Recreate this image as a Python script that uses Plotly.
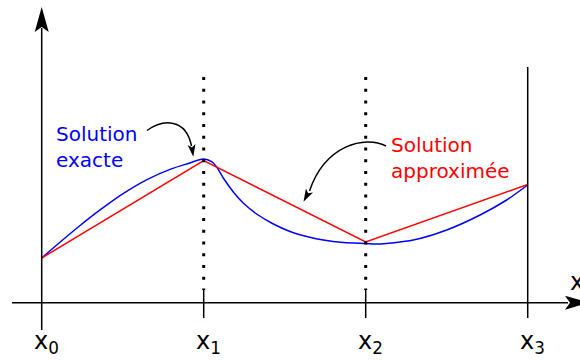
import math
import plotly.graph_objects as go

# mesh nodes and their labels
x_nodes = [0, 1, 2, 3]
node_labels = ['x<sub>0</sub>', 'x<sub>1</sub>', 'x<sub>2</sub>', 'x<sub>3</sub>']

# approximate solution: values at the nodes (piecewise linear)
approx_y = [0.447, 1.422, 0.607, 1.182]

# exact solution, points
exact_x = [0, 0.1, 0.237, 0.35, 0.5, 0.65, 0.8, 0.9, 1.0, 1.049, 1.080, 1.121,
           1.183, 1.244, 1.327, 1.430, 1.533, 1.636, 1.738, 1.862, 2.0,
           2.068, 2.294, 2.5, 2.706, 2.870, 3.0]
exact_y = [0.447, 0.587, 0.772, 0.915, 1.088, 1.231, 1.338, 1.390, 1.437, 1.410,
           1.357, 1.247, 1.107, 0.997, 0.887, 0.787, 0.712, 0.662, 0.627, 0.602,
           0.592, 0.587, 0.627, 0.727, 0.877, 1.027, 1.177]

BLUE = '#0000ff'
RED = '#ff0000'
FONT = 'DejaVu Sans'

# pixel <-> data helpers (plot area covers the whole 580x360 page)
X0_PX, DX = 41.7, 162.0
Y0_PX, DY = 302.7, 100.0


def X(px):
    return (px - X0_PX) / DX


def Y(py):
    return (Y0_PX - py) / DY


def head_path(tip, base, half_w, notch):
    tx, ty = tip
    bx, by = base
    L = math.hypot(tx - bx, ty - by)
    ux, uy = (tx - bx) / L, (ty - by) / L
    nx, ny = -uy, ux
    pts = [(tx, ty), (bx + nx * half_w, by + ny * half_w),
           (bx + ux * notch, by + uy * notch), (bx - nx * half_w, by - ny * half_w)]
    return 'M ' + ' L '.join(f'{X(p[0]):.4f},{Y(p[1]):.4f}' for p in pts) + ' Z'


def curve_path(p0, p1, p2, p3):
    return (f'M {X(p0[0]):.4f},{Y(p0[1]):.4f} C {X(p1[0]):.4f},{Y(p1[1]):.4f} '
            f'{X(p2[0]):.4f},{Y(p2[1]):.4f} {X(p3[0]):.4f},{Y(p3[1]):.4f}')


fig = go.Figure()

fig.add_trace(go.Scatter(x=exact_x, y=exact_y, mode='lines',
                         line=dict(color=BLUE, width=1.5, shape='spline', smoothing=0.8),
                         hoverinfo='skip'))
fig.add_trace(go.Scatter(x=x_nodes, y=approx_y, mode='lines',
                         line=dict(color=RED, width=1.5), hoverinfo='skip'))

black = dict(color='black', width=1.5)
shapes = [
    # axes
    dict(type='line', x0=0, x1=0, y0=Y(330), y1=Y(28), line=black),
    dict(type='line', x0=X(12), x1=X(568), y0=0, y1=0, line=black),
    dict(type='path', path=head_path((41.7, 7), (41.7, 32), 7, 5),
         fillcolor='black', line=dict(width=0)),
    dict(type='path', path=head_path((589, 302.7), (565, 302.7), 7, 5),
         fillcolor='black', line=dict(width=0)),
    # last node: solid vertical line
    dict(type='line', x0=x_nodes[3], x1=x_nodes[3], y0=Y(67), y1=Y(318), line=black),
]
for xn in x_nodes[1:3]:
    shapes.append(dict(type='line', x0=xn, x1=xn, y0=Y(77), y1=Y(290),
                       line=dict(color='black', width=3, dash='3px,8.75px')))
    shapes.append(dict(type='line', x0=xn, x1=xn, y0=Y(289), y1=Y(318), line=black))

# curved arrows
shapes.append(dict(type='path', path=curve_path((147, 130.5), (163, 119), (186, 118), (191.5, 146)),
                   line=black))
shapes.append(dict(type='path', path=head_path((193.3, 156.7), (191.5, 144.5), 4, 3),
                   fillcolor='black', line=dict(width=0)))
shapes.append(dict(type='path', path=curve_path((386, 146), (365, 135), (325, 145), (309.5, 191)),
                   line=black))
shapes.append(dict(type='path', path=head_path((303.5, 201.7), (309.5, 190.5), 4, 3),
                   fillcolor='black', line=dict(width=0)))

annotations = [
    dict(x=X(56), y=Y(122), text='Solution<br>exacte', showarrow=False,
         xanchor='left', yanchor='top', align='left', borderpad=0, borderwidth=0,
         font=dict(family=FONT, size=20, color=BLUE)),
    dict(x=X(391), y=Y(133), text='Solution<br>approximée', showarrow=False,
         xanchor='left', yanchor='top', align='left', borderpad=0, borderwidth=0,
         font=dict(family=FONT, size=20, color=RED)),
    dict(x=X(570), y=Y(268), text='x', showarrow=False,
         xanchor='left', yanchor='top', borderpad=0, borderwidth=0,
         font=dict(family=FONT, size=24, color='black')),
]
for xn, lab in zip(x_nodes, node_labels):
    annotations.append(dict(x=xn, y=Y(327), text=lab, showarrow=False, xshift=-7.5,
                            xanchor='left', yanchor='top', borderpad=0, borderwidth=0,
                            font=dict(family=FONT, size=24, color='black')))

fig.update_layout(
    width=580, height=360,
    margin=dict(l=0, r=0, t=0, b=0),
    paper_bgcolor='white', plot_bgcolor='white',
    showlegend=False,
    xaxis=dict(range=[X(0), X(580)], visible=False, fixedrange=True),
    yaxis=dict(range=[Y(360), Y(0)], visible=False, fixedrange=True),
    shapes=shapes,
    annotations=annotations,
)

# the page's default body margin would shift the drawing by 8px
fig.write_html('out.html', config={'displayModeBar': False},
               post_script="document.body.style.margin='0';document.body.style.overflow='hidden';")
